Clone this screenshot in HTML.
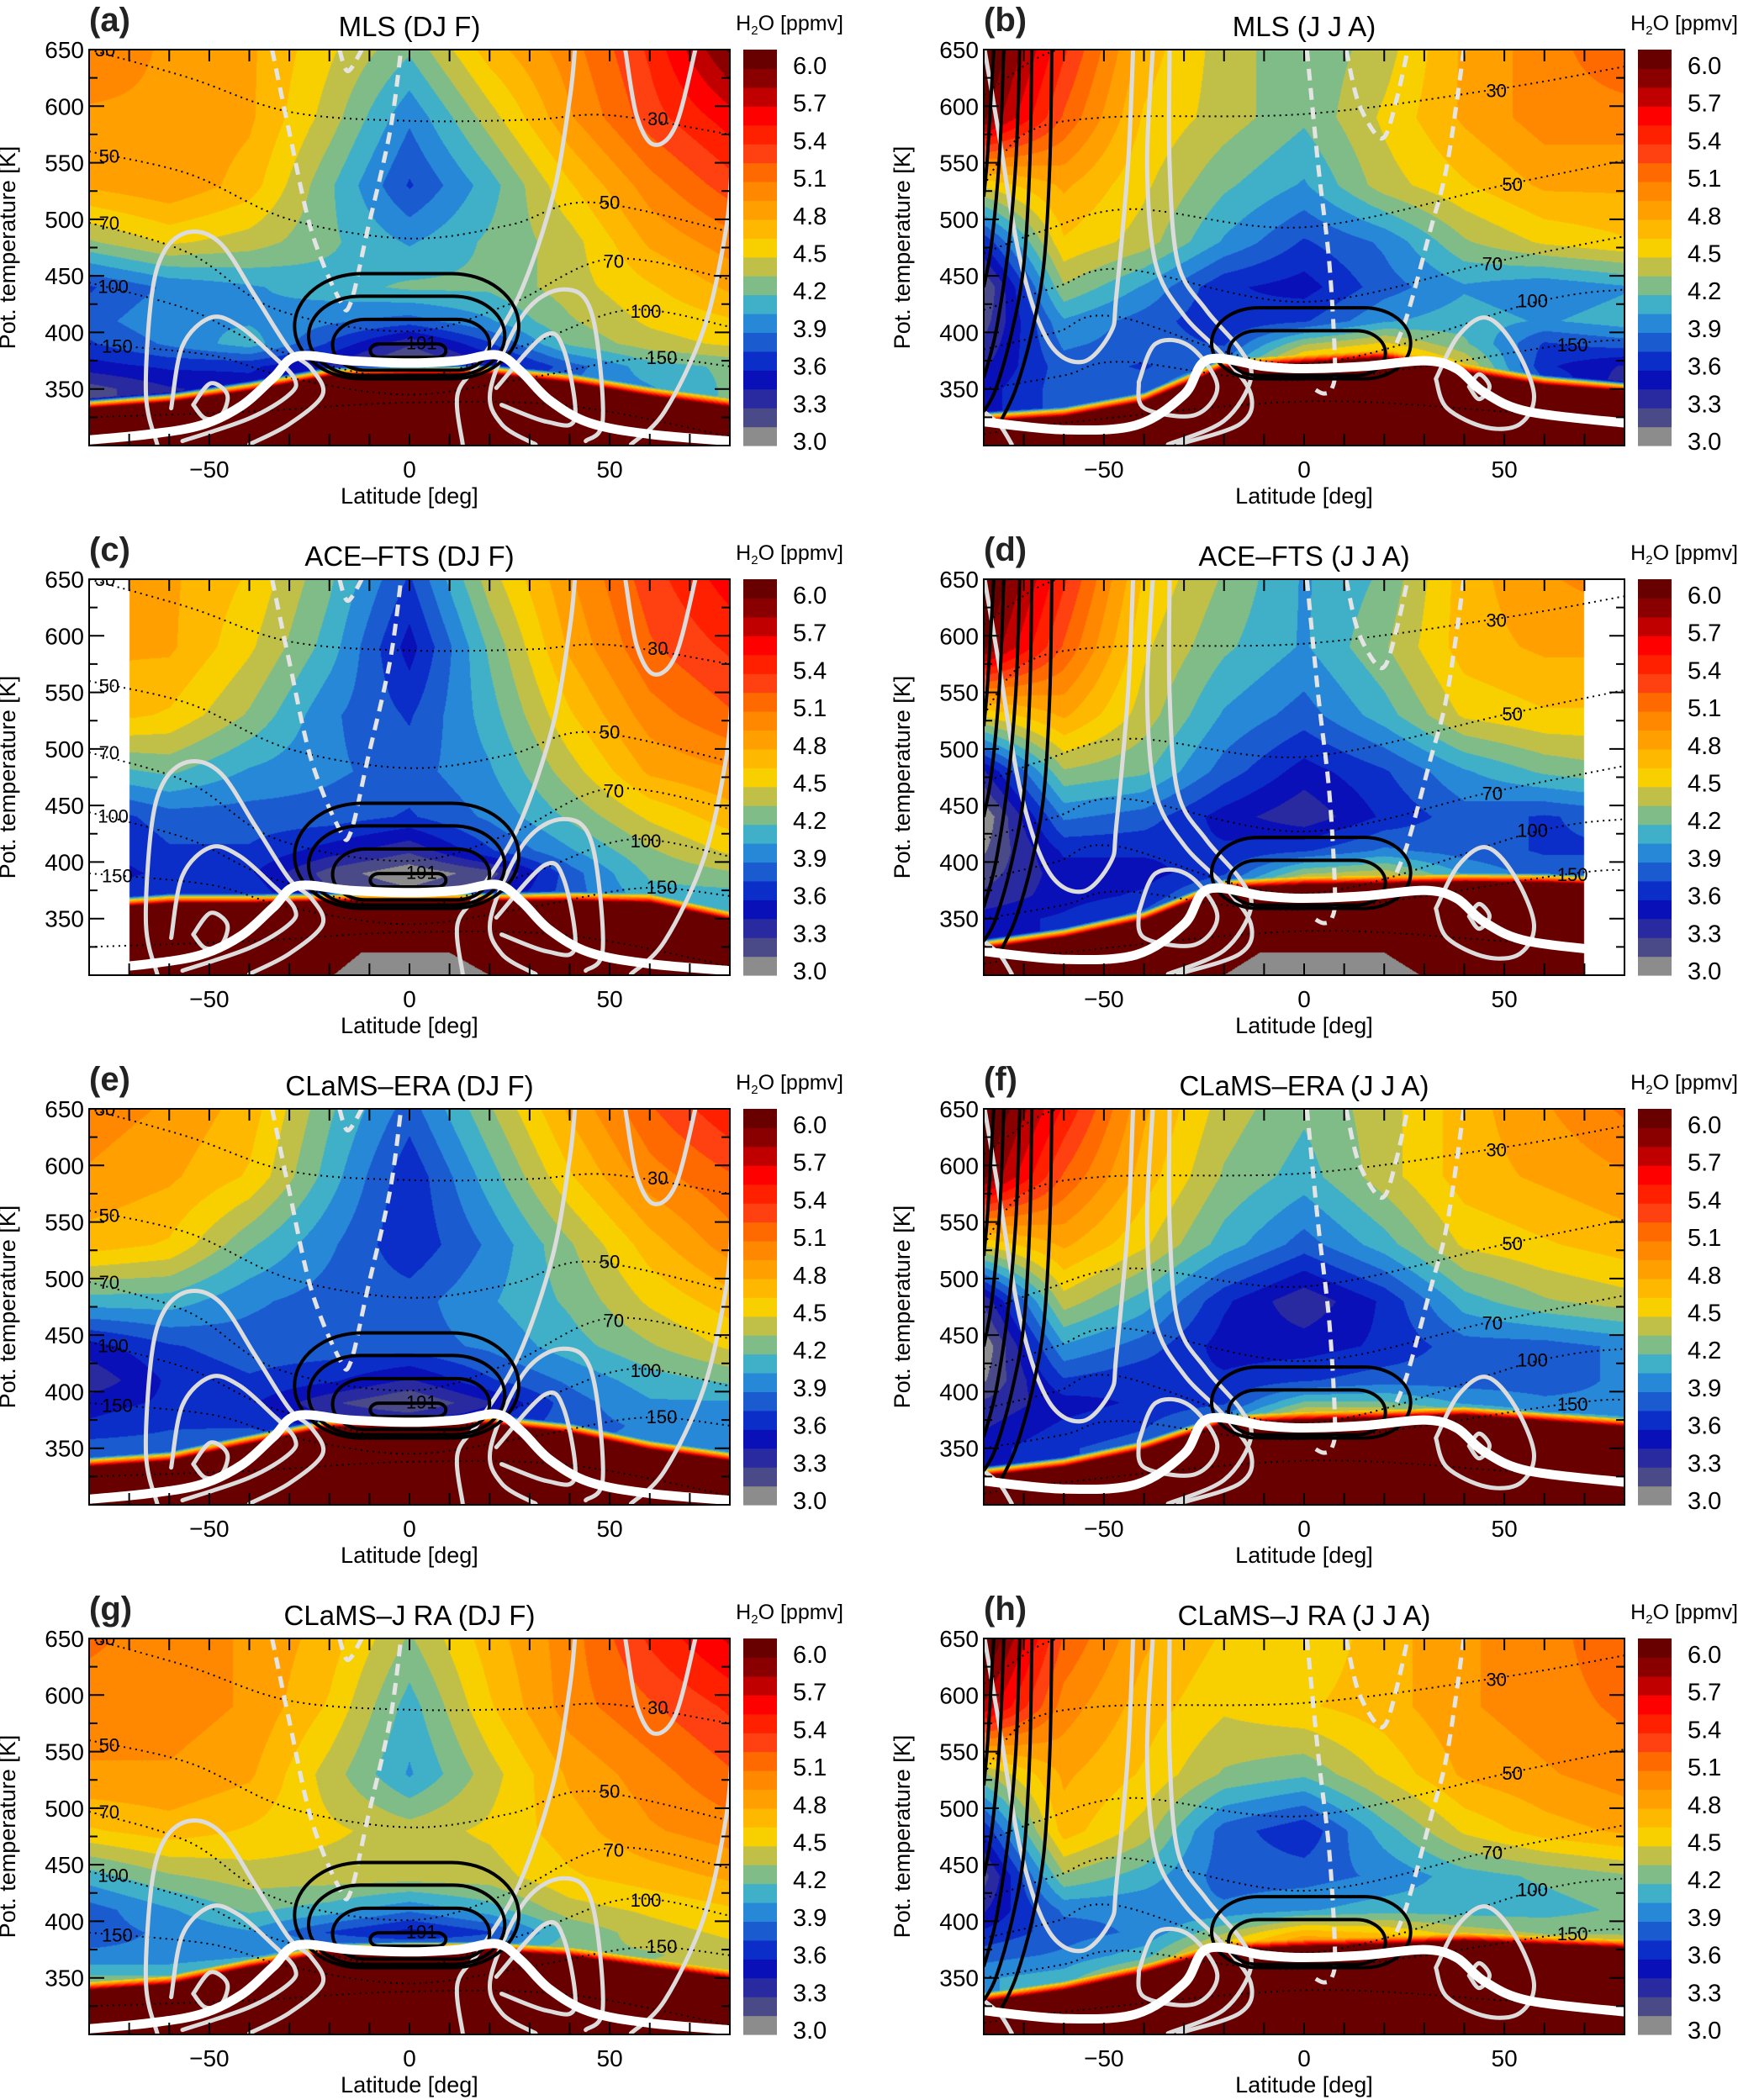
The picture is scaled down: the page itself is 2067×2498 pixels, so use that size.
<!DOCTYPE html>
<html><head><meta charset="utf-8">
<style>
html,body{margin:0;padding:0;background:#fff}
body{width:2067px;height:2498px;position:relative;overflow:hidden;font-family:"Liberation Sans",sans-serif}
canvas{position:absolute}
#ov{position:absolute;left:0;top:0}
</style></head>
<body>
<svg id="ov" width="2067" height="2498" xmlns="http://www.w3.org/2000/svg"></svg>
<script>
// ---------- data ----------
const LATS = [-80,-60,-40,-20,0,20,40,60,80];
const THETAS = [650,590,530,480,440,410,390,370,350];
const BAND_COLORS = ['#8c8c8c','#4a4a88','#2a2aa0','#0a10b8','#0c2ec8','#1a5cd0','#2888d8','#40b0c8','#80bc88','#c0c048','#f8d000','#ffb800','#ffa000','#ff8800','#ff6a00','#ff4010','#ff2000','#ff0000','#c00000','#8a0000','#680000'];
const CBAR_TICKS = ['3.0','3.3','3.6','3.9','4.2','4.5','4.8','5.1','5.4','5.7','6.0'];
const Y_TICKS = [350,400,450,500,550,600,650];
const X_TICKS = [-50,0,50];

const h2oA = [
[5.0,4.9,4.8,4.5,4.2,4.7,5.0,5.4,6.0],
[4.9,4.9,4.8,4.4,3.9,4.4,4.9,5.3,5.6],
[4.8,4.9,4.7,4.2,3.7,4.1,4.6,5.0,5.3],
[4.3,4.5,4.4,4.2,4.0,4.2,4.4,4.8,5.0],
[3.7,3.9,4.0,4.1,4.2,4.2,4.4,4.6,4.8],
[3.8,4.0,4.0,3.9,3.8,4.0,4.3,4.5,4.6],
[3.7,3.9,4.1,3.7,3.3,3.7,4.2,4.4,4.5],
[3.5,3.6,3.6,3.4,3.0,3.4,3.8,4.1,4.2],
[3.2,3.4,3.5,3.5,3.5,3.6,3.9,4.0,4.2]];
const edgeA = [330,335,345,358,360,360,352,340,330];

const h2oB = [
[6.2,5.4,4.7,4.4,4.2,4.4,4.8,5.0,5.2],
[6.0,5.2,4.6,4.4,4.2,4.5,4.8,5.0,5.0],
[4.5,4.8,4.5,4.2,4.0,4.4,4.6,4.8,4.8],
[3.6,4.6,4.4,4.0,3.7,3.9,4.3,4.5,4.6],
[3.1,4.3,4.0,3.6,3.5,3.8,4.0,3.9,4.0],
[3.2,4.0,3.8,3.6,3.7,4.0,4.1,4.0,4.1],
[3.3,3.9,3.8,3.7,4.3,4.5,4.2,3.7,3.8],
[3.4,3.8,3.7,3.9,4.8,5.0,4.5,3.6,3.4],
[3.5,3.8,3.8,4.2,5.5,5.5,4.6,3.8,3.3]];
const edgeB = [318,322,335,365,368,372,360,350,345];

const h2oC = [
[4.9,4.8,4.6,4.2,3.7,4.4,4.9,5.3,5.6],
[4.8,4.8,4.5,4.1,3.5,4.2,4.8,5.2,5.4],
[4.7,4.6,4.3,3.9,3.7,4.1,4.6,5.0,5.2],
[4.1,4.2,4.0,3.9,3.8,4.0,4.4,4.8,4.9],
[3.6,3.8,3.8,3.8,3.7,3.9,4.2,4.5,4.7],
[3.5,3.7,3.7,3.5,3.3,3.7,4.0,4.3,4.5],
[3.5,3.6,3.6,3.2,3.0,3.2,3.8,4.2,4.3],
[3.6,3.7,3.7,3.3,3.2,3.4,3.8,4.1,4.1],
[3.7,3.7,3.8,3.8,3.7,3.8,3.9,4.0,4.0]];
const edgeC = [355,360,360,362,362,362,362,360,345];

const h2oD = [
[6.2,5.4,4.6,4.3,4.0,4.2,4.7,4.9,5.0],
[6.0,5.2,4.5,4.2,4.0,4.3,4.7,4.8,4.8],
[4.5,4.8,4.4,4.0,3.8,4.1,4.5,4.6,4.6],
[3.4,4.3,4.2,3.8,3.5,3.7,4.0,4.2,4.3],
[3.0,3.9,3.8,3.5,3.3,3.6,3.8,3.7,3.8],
[3.1,3.6,3.6,3.6,3.7,3.9,3.8,3.7,3.7],
[3.2,3.5,3.5,3.7,4.3,4.4,4.0,3.8,3.8],
[3.3,3.5,3.6,4.0,5.0,5.0,4.5,4.2,4.2],
[3.5,3.6,3.8,4.2,5.5,5.5,4.8,4.5,4.4]];
const edgeD = [320,330,345,373,375,376,378,378,375];

const h2oE = [
[5.0,4.9,4.7,4.2,3.8,4.3,4.8,5.2,5.5],
[4.9,4.8,4.6,4.1,3.6,4.1,4.6,5.0,5.2],
[4.7,4.6,4.2,3.9,3.6,3.9,4.3,4.7,5.0],
[4.1,4.1,3.9,3.8,3.8,4.0,4.2,4.5,4.7],
[3.5,3.7,3.8,3.8,3.8,3.9,4.1,4.3,4.5],
[3.3,3.6,3.7,3.6,3.4,3.7,3.9,4.1,4.2],
[3.5,3.6,3.6,3.3,3.1,3.4,3.8,4.0,4.0],
[3.6,3.7,3.7,3.5,3.5,3.6,3.8,3.9,3.9],
[3.8,3.8,3.9,3.9,3.9,3.9,3.9,3.9,3.9]];
const edgeE = [330,335,350,365,367,368,360,345,335];

const h2oF = [
[6.2,5.5,4.8,4.4,4.2,4.4,4.7,4.9,5.1],
[6.0,5.2,4.7,4.3,4.1,4.4,4.7,4.8,4.9],
[4.5,4.8,4.5,4.1,3.8,4.1,4.5,4.6,4.7],
[3.3,4.4,4.1,3.6,3.3,3.6,4.1,4.3,4.4],
[3.0,4.0,3.8,3.5,3.5,3.6,3.8,3.8,3.9],
[3.1,3.7,3.6,3.6,3.7,3.8,3.8,3.8,3.9],
[3.3,3.5,3.6,3.7,4.2,4.2,4.0,3.9,3.9],
[3.4,3.6,3.7,4.0,4.8,4.8,4.5,4.2,4.1],
[3.5,3.7,3.8,4.2,5.5,5.5,4.8,4.5,4.4]];
const edgeF = [322,330,345,368,370,372,375,370,365];

const h2oG = [
[5.1,5.0,4.9,4.7,4.3,4.7,5.0,5.4,5.7],
[5.0,5.0,4.9,4.6,4.1,4.6,5.0,5.2,5.4],
[4.9,4.9,4.8,4.4,4.0,4.4,4.8,5.0,5.2],
[4.6,4.7,4.6,4.5,4.4,4.5,4.7,4.9,5.0],
[4.1,4.3,4.4,4.4,4.4,4.4,4.6,4.7,4.8],
[3.8,4.0,4.2,4.1,3.9,4.1,4.4,4.5,4.6],
[3.8,3.9,4.0,3.7,3.5,3.7,4.2,4.4,4.5],
[3.9,3.9,4.0,4.1,4.2,4.1,4.3,4.3,4.4],
[4.2,4.2,4.3,4.3,4.3,4.3,4.4,4.4,4.4]];
const edgeG = [335,340,355,368,370,370,365,355,345];

const h2oH = [
[6.2,5.2,4.8,4.6,4.5,4.7,4.9,5.0,5.2],
[5.8,5.0,4.7,4.5,4.6,4.7,4.9,5.0,5.1],
[4.3,4.8,4.6,4.3,4.2,4.5,4.8,4.9,5.0],
[3.6,4.7,4.4,3.8,3.6,4.1,4.5,4.7,4.8],
[3.2,4.3,4.1,3.8,3.8,3.9,4.1,4.2,4.3],
[3.4,3.9,3.9,3.9,4.0,4.1,4.1,4.1,4.2],
[3.6,3.8,3.9,4.3,4.7,4.6,4.4,4.3,4.3],
[3.8,3.9,4.1,4.7,5.2,5.1,4.8,4.6,4.5],
[4.0,4.1,4.5,5.0,5.5,5.5,5.0,4.8,4.7]];
const edgeH = [325,335,350,370,372,374,378,375,372];

// tropopause (white thick)
const tropDJF = [[-80,305],[-65,310],[-52,318],[-42,335],[-34,360],[-28,379],[-15,375],[0,373],[12,375],[22,380],[28,365],[35,340],[45,320],[60,310],[80,304]];
const tropJJA = [[-80,321],[-60,314],[-42,318],[-30,345],[-24,376],[-10,370],[0,368],[15,370],[30,375],[38,368],[45,347],[56,330],[80,320]];

// zonal wind contours (gray)
const windDJF = [
 [[-63,301],[-65.8,345],[-64.4,432],[-61,473],[-54.6,489],[-47,478],[-38.5,432],[-30,385],[-24.5,368],[-21.7,345],[-30,319],[-40,301]],
 [[-59.5,333],[-56.7,388],[-49.7,413],[-42.7,406],[-34.3,380],[-28.7,359],[-30,345],[-40,324],[-56.7,304]],
 [[-54,336],[-49.7,355],[-45.5,345],[-47,327],[-51,324],[-54,336]],
 [[13.3,301],[12,345],[17.5,374],[27.3,432],[35.7,519],[40,606],[41.3,650]],
 [[31.5,301],[23,319],[20.3,351],[28.7,417],[38.5,438],[45.5,417],[48.3,324],[44,304]],
 [[21.7,351],[33.6,397],[38.5,385],[41.3,324],[34.3,321],[23,336]],
 [[55.3,301],[63.7,330],[73.5,403],[79,490],[80.5,548]],
 [[53.9,650],[56.7,592],[61,566],[66.5,583],[71.4,650]]
];
const windDJFdash = [
 [[-34.3,650],[-30,577],[-24.5,490],[-17.5,429],[-14.7,426],[-10.5,490],[-4.9,577],[-2.1,650]],
 [[-17.5,650],[-15.4,631],[-11.9,650]]
];
const windJJA = [
 [[-42.7,650],[-44,548],[-46.9,432],[-48.3,400],[-55.3,374],[-63.7,391],[-70.7,461],[-76.3,577],[-79.8,650]],
 [[-37.8,650],[-39.2,548],[-37.1,461],[-30,415],[-20.3,380],[-13.3,345],[-16,319],[-31.5,301]],
 [[-33.6,650],[-33.6,548],[-31.5,461],[-24.5,420],[-16,385],[-13.3,359],[-20,322],[-34,301]],
 [[-41.3,356],[-37.1,390],[-28.7,388],[-21.7,353],[-27.3,327],[-39.9,333],[-41.3,356]],
 [[32.9,359],[38.5,397],[45.5,413],[52.5,388],[57.4,345],[53.9,319],[45.5,316],[35.7,333],[32.9,359]],
 [[41.2,352],[43.7,363],[46.3,352],[43.7,341],[41.2,352]],
 [[-80,330],[-76,318],[-73,301]]
];
const windJJAdash = [
 [[0.7,650],[3.5,548],[6.3,461],[7.7,374],[7,351],[4.9,346],[2.1,351]],
 [[10.5,650],[13.3,606],[17.5,577],[20.3,574],[23.1,606],[25.9,650]],
 [[39.9,650],[35.7,548],[31.5,490],[25.9,417],[22.4,385]]
];

// temperature contours (black), boxes: [latMin, latMax, thetaMin, thetaMax]
const tempDJF = [[-28.7,27.3,359,452],[-25.2,23.8,362,432],[-19.2,20,366.6,411.6],[-9.8,9.1,378,389.8]];
const tempJJA = [[-23.1,26.6,359,421.8],[-18.9,20.3,362,401.5]];
const vortexJJA = [
 [[-77.5,650],[-79,560],[-80,520]],
 [[-75,650],[-76,560],[-78,480],[-80,440]],
 [[-71,650],[-72,550],[-74,470],[-77,400],[-80,360]],
 [[-68,650],[-68.5,550],[-70,460],[-73,400],[-77,350],[-80,330]],
 [[-63,650],[-63.5,550],[-65,460],[-68,400],[-72,350],[-76,320]]
];

// pressure levels (dotted)
const presDJF = [
 [[-80,650],[-55,625],[-30,595],[0,587],[30,588],[50,592],[80,575]],
 [[-80,560],[-55,540],[-30,500],[0,483],[25,495],[45,515],[80,489]],
 [[-80,497],[-55,470],[-33,420],[0,401],[25,425],[50,465],[80,447]],
 [[-80,444],[-55,420],[-33,384],[0,360],[30,390],[55,420],[80,405]],
 [[-80,390],[-50,380],[-30,360],[0,345],[30,360],[58,377],[80,370]],
 [[-80,325],[-40,330],[0,338],[40,335],[80,308]]
];
const presJJA = [
 [[-80,610],[-68,640],[-60,652]],
 [[-80,530],[-70,575],[-50,590],[0,593],[48,615],[80,635]],
 [[-80,470],[-65,490],[-43,509],[0,493],[51,531],[80,552]],
 [[-80,420],[-62,440],[-45,456],[0,427],[47,462],[80,485]],
 [[-80,385],[-62,400],[-47,414],[0,372],[58,427],[80,438]],
 [[-80,350],[-60,362],[-45,374],[0,358],[65,389],[80,393]],
 [[-80,310],[-60,320],[0,339],[50,330],[80,322]]
];
const presLabelsDJF = [['30',-76,650],['50',-75,556],['70',-75,497],['100',-74,441],['150',-73,388],['30',62,589],['50',50,515],['70',51,463],['100',59,419],['150',63,378]];
const presLabelsJJA = [['30',48,614],['50',52,531],['70',47,461],['100',57,428],['150',67,389]];

const PANELS = [
 {key:'a',title:'MLS (DJ F)',col:0,row:0,h2o:h2oA,edge:edgeA,s:'DJF'},
 {key:'b',title:'MLS (J J A)',col:1,row:0,h2o:h2oB,edge:edgeB,s:'JJA'},
 {key:'c',title:'ACE\u2013FTS (DJ F)',col:0,row:1,h2o:h2oC,edge:edgeC,s:'DJF',maskBelow:-70,gray:[-19,20,-12,10]},
 {key:'d',title:'ACE\u2013FTS (J J A)',col:1,row:1,h2o:h2oD,edge:edgeD,s:'JJA',maskAbove:70,gray:[-20,29,-11,20]},
 {key:'e',title:'CLaMS\u2013ERA (DJ F)',col:0,row:2,h2o:h2oE,edge:edgeE,s:'DJF'},
 {key:'f',title:'CLaMS\u2013ERA (J J A)',col:1,row:2,h2o:h2oF,edge:edgeF,s:'JJA'},
 {key:'g',title:'CLaMS\u2013J RA (DJ F)',col:0,row:3,h2o:h2oG,edge:edgeG,s:'DJF'},
 {key:'h',title:'CLaMS\u2013J RA (J J A)',col:1,row:3,h2o:h2oH,edge:edgeH,s:'JJA'}
];

// ---------- rendering ----------
const W = 762, H = 471;
const NS = 'http://www.w3.org/2000/svg';
const ov = document.getElementById('ov');
function el(tag, attrs, parent){const e=document.createElementNS(NS,tag);for(const k in attrs)e.setAttribute(k,attrs[k]);(parent||ov).appendChild(e);return e;}
function hex(c){return [parseInt(c.substr(1,2),16),parseInt(c.substr(3,2),16),parseInt(c.substr(5,2),16)];}
const RGB = BAND_COLORS.map(hex);

function interp1(xs, ys, x){
  if(x<=xs[0])return ys[0];
  for(let i=0;i<xs.length-1;i++){if(x<=xs[i+1]){const t=(x-xs[i])/(xs[i+1]-xs[i]);return ys[i]+t*(ys[i+1]-ys[i]);}}
  return ys[ys.length-1];
}
function field(g, lat, th){
  let ti = 0, tt = 0;
  if(th>=THETAS[0]){ti=0;tt=0;}
  else if(th<=THETAS[THETAS.length-1]){ti=THETAS.length-2;tt=1;}
  else {for(let i=0;i<THETAS.length-1;i++){if(th<=THETAS[i]&&th>=THETAS[i+1]){ti=i;tt=(THETAS[i]-th)/(THETAS[i]-THETAS[i+1]);break;}}}
  let li = Math.min(7, Math.max(0, Math.floor((lat+80)/20)));
  let lt = Math.min(1, Math.max(0, (lat-LATS[li])/20));
  const a=g[ti][li]+(g[ti][li+1]-g[ti][li])*lt;
  const b=g[ti+1][li]+(g[ti+1][li+1]-g[ti+1][li])*lt;
  return a+(b-a)*tt;
}

function catmull(pts){
  if(pts.length<2)return '';
  let d='M'+pts[0][0].toFixed(1)+' '+pts[0][1].toFixed(1);
  const n=pts.length;
  for(let i=0;i<n-1;i++){
    const p0=pts[i-1]||pts[i], p1=pts[i], p2=pts[i+1], p3=pts[i+2]||pts[i+1];
    const c1=[p1[0]+(p2[0]-p0[0])/6,p1[1]+(p2[1]-p0[1])/6];
    const c2=[p2[0]-(p3[0]-p1[0])/6,p2[1]-(p3[1]-p1[1])/6];
    d+=' C'+c1[0].toFixed(1)+' '+c1[1].toFixed(1)+' '+c2[0].toFixed(1)+' '+c2[1].toFixed(1)+' '+p2[0].toFixed(1)+' '+p2[1].toFixed(1);
  }
  return d;
}

PANELS.forEach((P, idx)=>{
  const L = P.col===0 ? 106 : 1170;
  const T = 59 + P.row*630;
  const xS = lat => L + (lat+80)/160*W;
  const yS = th => T + (650-th)/350*H;
  const toPx = pts => pts.map(p=>[xS(p[0]), yS(p[1])]);

  const cv = document.createElement('canvas');
  cv.width=W; cv.height=H;
  cv.style.left=L+'px'; cv.style.top=T+'px';
  
  
  document.body.insertBefore(cv, ov);
  const ctx = cv.getContext('2d');
  const img = ctx.createImageData(W,H);
  for(let py=0;py<H;py++){
    const th = 650-(py+0.5)/H*350;
    for(let px=0;px<W;px++){
      const lat = -80+(px+0.5)/W*160;
      let r,g,b;
      if((P.maskBelow!==undefined && lat<P.maskBelow)||(P.maskAbove!==undefined && lat>P.maskAbove)){r=g=b=255;}
      else {
        const e = interp1(LATS, P.edge, lat);
        let v;
        if(th<e) v=7;
        else {
          const f=field(P.h2o, lat, th);
          if(th<e+12){const t=(th-e)/12; v=7+(f-7)*t;} else v=f;
        }
        if(P.gray && th<320){
          const t=(th-300)/20;
          const a=P.gray[0]+(P.gray[2]-P.gray[0])*t, bb=P.gray[1]+(P.gray[3]-P.gray[1])*t;
          if(lat>=a && lat<=bb) v=3.0;
        }
        let k=Math.floor((v-2.97)/0.15); if(k<0)k=0; if(k>20)k=20;
        [r,g,b]=RGB[k];
      }
      const o=(py*W+px)*4; img.data[o]=r; img.data[o+1]=g; img.data[o+2]=b; img.data[o+3]=255;
    }
  }
  ctx.putImageData(img,0,0);

  const defs = el('defs',{});
  const cp = el('clipPath',{id:'clip'+P.key},defs);
  el('rect',{x:L,y:T,width:W,height:H},cp);
  const grp = el('g',{'clip-path':'url(#clip'+P.key+')'});
  
  

  const djf = P.s==='DJF';
  (djf?presDJF:presJJA).forEach((line,i)=>{
    const p = el('path',{d:catmull(toPx(line)),fill:'none',stroke:'#000','stroke-width':2,'stroke-dasharray':'2 5'},grp);
    
    
  });
  (djf?presLabelsDJF:presLabelsJJA).forEach(l=>{
    const t = el('text',{x:xS(l[1]),y:yS(l[2])+8,'font-size':22,'text-anchor':'middle',fill:'#000'},grp);
    t.textContent=l[0];
    
    
  });
  (djf?windDJF:windJJA).forEach(line=>{
    const p = el('path',{d:catmull(toPx(line)),fill:'none',stroke:'#dcdcdc','stroke-width':5,'stroke-linecap':'round','stroke-linejoin':'round'},grp);
    
    
  });
  (djf?windDJFdash:windJJAdash).forEach(line=>{
    const p = el('path',{d:catmull(toPx(line)),fill:'none',stroke:'#e4e4e4','stroke-width':5,'stroke-dasharray':'14 9'},grp);
    
    
  });
  (djf?tempDJF:tempJJA).forEach(bx=>{
    const x0=xS(bx[0]), x1=xS(bx[1]), y0=yS(bx[3]), y1=yS(bx[2]);
    const ry=(y1-y0)*0.5, rx=Math.min((x1-x0)*0.3, ry*1.3);
    const p = el('rect',{x:x0,y:y0,width:x1-x0,height:y1-y0,rx:rx,ry:ry,fill:'none',stroke:'#000','stroke-width':4},grp);
    
    
  });
  if(djf){
    const t = el('text',{x:xS(3),y:yS(385),'font-size':22,'text-anchor':'middle',fill:'#000'},grp);
    t.textContent='191';
    
    
  } else {
    vortexJJA.forEach(line=>{
      const p = el('path',{d:catmull(toPx(line)),fill:'none',stroke:'#000','stroke-width':4},grp);
      
      
    });
  }
  const tp = el('path',{d:catmull(toPx(djf?tropDJF:tropJJA)),fill:'none',stroke:'#fff','stroke-width':11,'stroke-linecap':'round','stroke-linejoin':'round'},grp);
  
  

  const fr = el('rect',{x:L,y:T,width:W,height:H,fill:'none',stroke:'#000','stroke-width':2});
  
  
  let tk='';
  for(let lat=-80;lat<=80;lat+=10){const x=xS(lat);tk+='M'+x+' '+(T+H)+'v-14M'+x+' '+T+'v14';}
  for(let th=325;th<=650;th+=25){const y=yS(th);const len=(th%50===0)?18:10;tk+='M'+L+' '+y+'h'+len+'M'+(L+W)+' '+y+'h-'+len;}
  const ticks = el('path',{d:tk,stroke:'#000','stroke-width':2,fill:'none'});
  
  
  Y_TICKS.forEach(v=>{
    const t=el('text',{x:L-6,y:yS(v)+10,'font-size':28,'text-anchor':'end',fill:'#000'});
    t.textContent=String(v);
    
    
  });
  X_TICKS.forEach(v=>{
    const t=el('text',{x:xS(v),y:T+H+38,'font-size':28,'text-anchor':'middle',fill:'#000'});
    t.textContent=(v<0?'\u2212':'')+Math.abs(v);
    
    
  });
  const xl=el('text',{x:L+W/2,y:T+H+69,'font-size':27,'text-anchor':'middle',fill:'#000'});
  xl.textContent='Latitude [deg]';
  
  
  const yx=L-88, yy=T+H/2;
  const yl=el('text',{x:yx,y:yy,'font-size':27,'text-anchor':'middle',fill:'#000',transform:'rotate(-90 '+yx+' '+yy+')'});
  yl.textContent='Pot. temperature [K]';
  
  
  const ti=el('text',{x:L+W/2,y:T-16,'font-size':33,'text-anchor':'middle',fill:'#000'});
  ti.textContent=P.title;
  
  
  const pl=el('text',{x:L,y:T-22,'font-size':40,'font-weight':'bold',fill:'#222'});
  pl.textContent='('+P.key+')';
  
  

  const cbx=L+778, cbw=40, bh=H/21;
  const cb=el('g',{});
  
  
  BAND_COLORS.forEach((c,i)=>{
    const r=el('rect',{x:cbx,y:T+H-(i+1)*bh,width:cbw,height:bh+0.6,fill:c},cb);
    
    
  });
  CBAR_TICKS.forEach((s,i)=>{
    const t=el('text',{x:cbx+59,y:T+466-i*44.7+10,'font-size':29,fill:'#000'},cb);
    t.textContent=s;
    
    
  });
  const ut=el('text',{x:L+897,y:T-23,'font-size':25,'text-anchor':'end',fill:'#000'},cb);
  
  
  ut.appendChild(document.createTextNode('H'));
  const sub=el('tspan',{'font-size':15,dy:5},ut); sub.textContent='2';
  const rest=el('tspan',{dy:-5},ut); rest.textContent='O [ppmv]';
});
</script>
</body></html>
